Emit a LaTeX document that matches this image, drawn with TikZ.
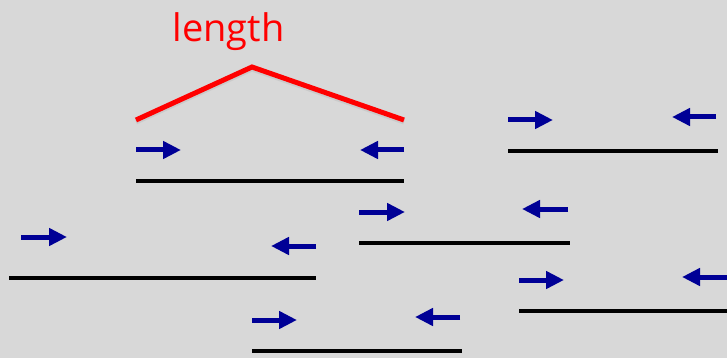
\documentclass[tikz,border=0pt]{standalone}
\usepackage{fontspec}
\setmainfont{Open Sans}
\usetikzlibrary{arrows.meta}
\definecolor{bg}{RGB}{216,216,216}
\definecolor{readblue}{RGB}{0,0,150}
\definecolor{spanred}{RGB}{255,0,0}
\tikzset{
  fragment/.style={line width=4.5pt, black},
  readarrow/.style={line width=5pt, readblue,
    -{Triangle[length=18pt,width=17pt]}},
  spanline/.style={line width=5pt, spanred, line join=miter},
  spanlabel/.style={text=spanred, font=\fontsize{38}{40}\selectfont,
    anchor=base, inner sep=0pt},
}
\begin{document}
\begin{tikzpicture}[x=1pt,y=-1pt]
  % canvas
  \fill[bg] (0,0) rectangle (727,358);
  \useasboundingbox (0,0) rectangle (727,358);

  % fragment length indicator
  \node[spanlabel] (lbl) at (228.5,42) {length};
  \coordinate (sL) at (136,120);
  \coordinate (sT) at (252,67);
  \coordinate (sR) at (404,120);
  \draw[gray!60, line width=5pt, opacity=0.35] ([yshift=-2pt]sL) -- ([yshift=-2pt]sT) -- ([yshift=-2pt]sR);
  \draw[spanline] (sL) -- (sT) -- (sR);

  % fragments: line end points and paired read arrows
  % fragment 1
  \coordinate (f1a) at (136,181); \coordinate (f1b) at (404,181);
  \coordinate (r1a) at (136,150); \coordinate (r1b) at (181,150);
  \coordinate (l1a) at (404,150); \coordinate (l1b) at (360,150);
  % fragment 2
  \coordinate (f2a) at (508,151); \coordinate (f2b) at (718,151);
  \coordinate (r2a) at (508,120); \coordinate (r2b) at (553,120);
  \coordinate (l2a) at (716,117); \coordinate (l2b) at (672,117);
  % fragment 3
  \coordinate (f3a) at (359,243); \coordinate (f3b) at (570,243);
  \coordinate (r3a) at (359,212); \coordinate (r3b) at (405,212);
  \coordinate (l3a) at (568,209); \coordinate (l3b) at (522,209);
  % fragment 4
  \coordinate (f4a) at (9,278);   \coordinate (f4b) at (316,278);
  \coordinate (r4a) at (21,237);  \coordinate (r4b) at (67,237);
  \coordinate (l4a) at (316,246); \coordinate (l4b) at (271,246);
  % fragment 5
  \coordinate (f5a) at (519,311); \coordinate (f5b) at (730,311);
  \coordinate (r5a) at (519,280); \coordinate (r5b) at (564,280);
  \coordinate (l5a) at (727,277); \coordinate (l5b) at (682,277);
  % fragment 6
  \coordinate (f6a) at (252,351); \coordinate (f6b) at (462,351);
  \coordinate (r6a) at (252,320); \coordinate (r6b) at (297,320);
  \coordinate (l6a) at (460,317); \coordinate (l6b) at (415,317);

  \foreach \i in {1,...,6} {
    \draw[fragment] (f\i a) -- (f\i b);
    \draw[readarrow] (r\i a) -- (r\i b);
    \draw[readarrow] (l\i a) -- (l\i b);
  }
\end{tikzpicture}
\end{document}
